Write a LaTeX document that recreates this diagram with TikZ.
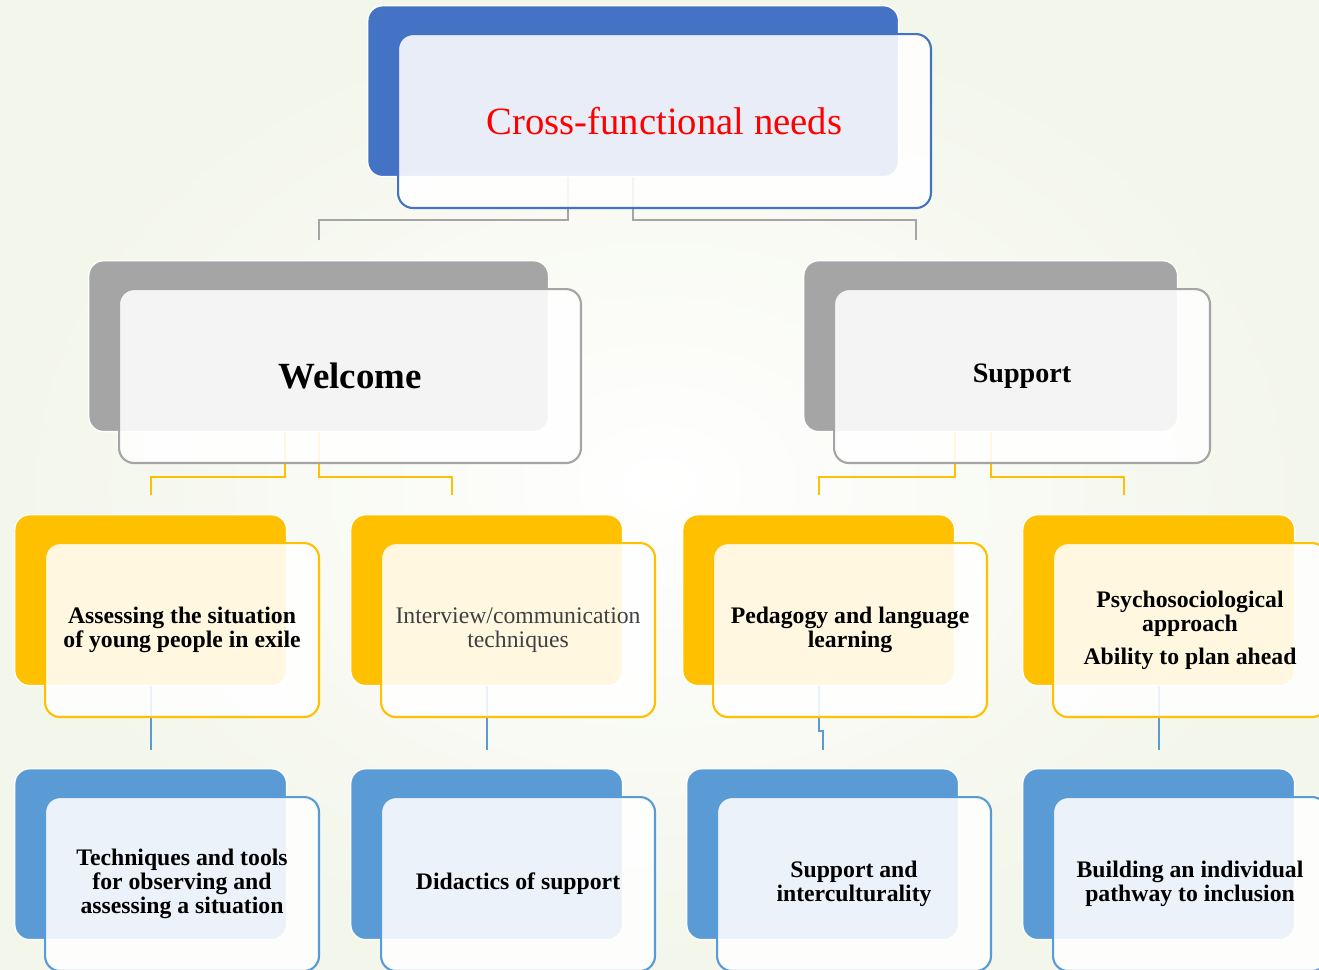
\documentclass[tikz,border=0pt]{standalone}
\usepackage{fontspec}
\setmainfont{Liberation Serif}
\definecolor{rootblue}{HTML}{4472C4}
\definecolor{midgray}{HTML}{A5A5A5}
\definecolor{gold}{HTML}{FFC000}
\definecolor{lightblue}{HTML}{5B9BD5}
\definecolor{bgtint}{RGB}{243,246,234}
\definecolor{softtext}{HTML}{404040}

\begin{document}
\begin{tikzpicture}[x=0.02cm,y=-0.02cm,
	back/.style={fill=#1,draw=white,line width=0.8pt,rounded corners=0.3cm,
		anchor=north west,inner sep=0pt,minimum height=3.42cm},
	front/.style={draw=#1,fill=white,fill opacity=0.88,text opacity=1,
		line width=1.2pt,rounded corners=0.3cm,anchor=north west,inner sep=2pt,
		minimum height=3.48cm,align=center,
		font=\bfseries\fontsize{13.5}{13.8}\selectfont},
	wide/.style={minimum width=10.66cm},
	mid/.style={minimum width=#1},
	small/.style={minimum width=5.48cm},
	link/.style={draw=#1,line width=1.1pt}]
	% Frame and background
	\useasboundingbox (0,0) rectangle (1319,970);
	\clip (0,0) rectangle (1319,970);
	\shade[inner color=white,outer color=bgtint] (0,0) rectangle (1319,970);
	% Back boxes
	\node[back=rootblue,minimum width=10.62cm] (rootB) at (367,5) {};
	\node[back=midgray,minimum width=9.2cm] (welB) at (88,260) {};
	\node[back=midgray,minimum width=7.48cm] (supB) at (803,260) {};
	\node[back=gold,minimum width=5.44cm] (y1B) at (14,514) {};
	\node[back=gold,minimum width=5.44cm] (y2B) at (350,514) {};
	\node[back=gold,minimum width=5.44cm] (y3B) at (682,514) {};
	\node[back=gold,minimum width=5.44cm] (y4B) at (1022,514) {};
	\node[back=lightblue,minimum width=5.44cm] (b1B) at (14,768) {};
	\node[back=lightblue,minimum width=5.44cm] (b2B) at (350,768) {};
	\node[back=lightblue,minimum width=5.44cm] (b3B) at (686,768) {};
	\node[back=lightblue,minimum width=5.44cm] (b4B) at (1022,768) {};
	% Connectors
	\draw[link=midgray] ([shift={(-65,0)}]rootB.south) -- ++(0,43) -| ([shift={(0,-20)}]welB.north);
	\draw[link=midgray] (rootB.south) -- ++(0,43) -| ([shift={(-75,-20)}]supB.north);
	\draw[link=gold] ([shift={(-34,0)}]welB.south) -- ++(0,45) -| ([shift={(0,-19)}]y1B.north);
	\draw[link=gold] (welB.south) -- ++(0,45) -| ([shift={(-35,-19)}]y2B.north);
	\draw[link=gold] ([shift={(-36,0)}]supB.south) -- ++(0,45) -| ([shift={(0,-19)}]y3B.north);
	\draw[link=gold] (supB.south) -- ++(0,45) -| ([shift={(-35,-19)}]y4B.north);
	\draw[link=lightblue] (y1B.south) -- ([shift={(0,-18)}]b1B.north);
	\draw[link=lightblue] (y2B.south) -- ([shift={(0,-18)}]b2B.north);
	\draw[link=lightblue] (y3B.south) -- ++(0,45) -| ([shift={(0,-18)}]b3B.north);
	\draw[link=lightblue] (y4B.south) -- ([shift={(0,-18)}]b4B.north);
	% Front boxes
	\node[front=rootblue,wide,text=red,font=\fontsize{22}{24}\selectfont]
		(root) at ([shift={(30,28)}]rootB.north west) {Cross-functional needs};
	\node[front=midgray,mid=9.24cm,font=\bfseries\fontsize{21}{24}\selectfont]
		(wel) at ([shift={(30,28)}]welB.north west) {Welcome};
	\node[front=midgray,mid=7.52cm,font=\bfseries\fontsize{16}{18}\selectfont]
		(sup) at ([shift={(30,28)}]supB.north west) {Support};
	\node[front=gold,small] (y1) at ([shift={(30,28)}]y1B.north west)
		{Assessing the situation\\of young people in exile};
	\node[front=gold,small,font=\fontsize{13.5}{13.8}\selectfont,text=softtext]
		(y2) at ([shift={(30,28)}]y2B.north west) {Interview/communication\\techniques};
	\node[front=gold,small] (y3) at ([shift={(30,28)}]y3B.north west)
		{Pedagogy and language\\learning};
	\node[front=gold,small] (y4) at ([shift={(30,28)}]y4B.north west)
		{Psychosociological\\approach\\[5pt]Ability to plan ahead};
	\node[front=lightblue,small] (b1) at ([shift={(30,28)}]b1B.north west)
		{Techniques and tools\\for observing and\\assessing a situation};
	\node[front=lightblue,small] (b2) at ([shift={(30,28)}]b2B.north west)
		{Didactics of support};
	\node[front=lightblue,small] (b3) at ([shift={(30,28)}]b3B.north west)
		{Support and\\interculturality};
	\node[front=lightblue,small] (b4) at ([shift={(30,28)}]b4B.north west)
		{Building an individual\\pathway to inclusion};
\end{tikzpicture}
\end{document}
